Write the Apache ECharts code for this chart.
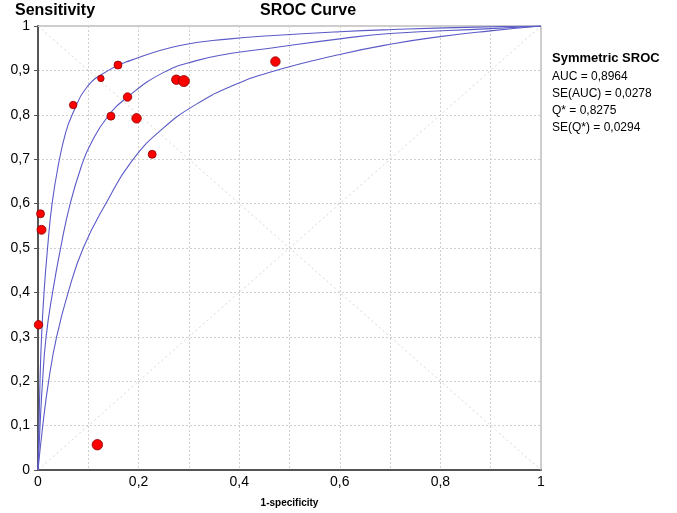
<!DOCTYPE html>
<html>
<head>
<meta charset="UTF-8">
<title>SROC Curve</title>
<script src="https://cdn.jsdelivr.net/npm/echarts@6/dist/echarts.min.js"></script>
</head>
<body style="margin:0;background:#fff">
<div id="sroc" style="width:677px;height:513px;"></div>
<script>
    // studies: [1-specificity, sensitivity]
    var studies = [
        [0.070, 0.822], [0.125, 0.882], [0.159, 0.912], [0.178, 0.840],
        [0.145, 0.797], [0.196, 0.792], [0.275, 0.879], [0.290, 0.876],
        [0.227, 0.711], [0.472, 0.920], [0.005, 0.577], [0.007, 0.541],
        [0.001, 0.327], [0.118, 0.057]
    ];
    // relative study weights (drive the dot size)
    var weights = [2.5, 1.5, 3, 3.5, 3, 4.5, 4.5, 6, 3, 4.5, 3, 4, 3.5, 5.5];

    var srocCurve = [
        [0, 0], [0.004, 0.098], [0.009, 0.199], [0.016, 0.299], [0.029, 0.4],
        [0.045, 0.5], [0.064, 0.6], [0.088, 0.69], [0.105, 0.735], [0.138, 0.795],
        [0.178, 0.84], [0.249, 0.895], [0.315, 0.922], [0.382, 0.938], [0.461, 0.950],
        [0.6, 0.971], [0.7, 0.983], [0.899, 0.994], [1, 1]
    ];
    var upperCurve = [
        [0, 0], [0.002, 0.098], [0.004, 0.199], [0.007, 0.299], [0.012, 0.4],
        [0.019, 0.5], [0.028, 0.6], [0.041, 0.69], [0.055, 0.76], [0.068, 0.8],
        [0.097, 0.862], [0.14, 0.9], [0.183, 0.922], [0.282, 0.956], [0.382, 0.971],
        [0.461, 0.978], [0.6, 0.987], [0.706, 0.992], [0.85, 0.997], [1, 1]
    ];
    var lowerCurve = [
        [0, 0], [0.0093, 0.098], [0.021, 0.199], [0.037, 0.3], [0.06, 0.4],
        [0.09, 0.5], [0.135, 0.6], [0.186, 0.695], [0.249, 0.77], [0.315, 0.824],
        [0.382, 0.863], [0.461, 0.896], [0.6, 0.936], [0.706, 0.960], [0.799, 0.976],
        [0.899, 0.989], [1, 1]
    ];
    var diagonals = [
        [[0, 0], [1, 1]],
        [[0, 1], [1, 0]]
    ];
    var statsTitle = 'Symmetric SROC';
    var statsLines = ['AUC = 0,8964', 'SE(AUC) = 0,0278', 'Q* = 0,8275', 'SE(Q*) = 0,0294'];

    var FONT = 'Liberation Sans, Arial, Helvetica, sans-serif';

    function comma(v) {
        var r = Math.round(v * 10) / 10;
        return String(r).replace('.', ',');
    }

    var chart = echarts.init(document.getElementById('sroc'));

    var series = [];
    diagonals.forEach(function (d) {
        series.push({
            type: 'line', data: d, symbol: 'none', silent: true,
            lineStyle: {color: '#d6d6d6', width: 1, type: [2, 3]}, z: 1
        });
    });
    [upperCurve, srocCurve, lowerCurve].forEach(function (c) {
        series.push({
            type: 'line', data: c, symbol: 'none', smooth: 0.5,
            lineStyle: {color: '#5a5ac8', width: 1.1}, z: 2
        });
    });
    series.push({
        type: 'scatter',
        data: studies.map(function (p, i) { return [p[0], p[1], weights[i]]; }),
        symbolSize: function (v) { return 5 + v[2] * 1.0; },
        itemStyle: {color: '#ff0000', borderColor: '#8a0000', borderWidth: 0.8, opacity: 1},
        z: 5
    });

    var graphics = [
        {type: 'text', left: 15, top: 3, style: {text: 'Sensitivity', font: 'bold 16px ' + FONT, fill: '#000'}},
        {type: 'text', left: 260, top: 3, style: {text: 'SROC Curve', font: 'bold 16px ' + FONT, fill: '#000'}},
        {type: 'text', left: 552, top: 52, style: {text: statsTitle, font: 'bold 13px ' + FONT, fill: '#000'}}
    ];
    statsLines.forEach(function (t, i) {
        graphics.push({type: 'text', left: 552, top: 71 + i * 16.9, style: {text: t, font: '12px ' + FONT, fill: '#000'}});
    });

    chart.setOption({
        animation: false,
        grid: {left: 38, right: 136, top: 26, bottom: 39, show: true, borderColor: '#9a9a9a', borderWidth: 1, containLabel: false},
        xAxis: {
            type: 'value', min: 0, max: 1, interval: 0.1,
            name: '1-specificity', nameLocation: 'middle', nameGap: 28,
            nameTextStyle: {fontFamily: FONT, fontWeight: 'bold', fontSize: 10, color: '#000'},
            axisLine: {lineStyle: {color: '#555', width: 2}},
            axisTick: {show: false},
            axisLabel: {
                fontFamily: FONT, fontSize: 14, color: '#000', margin: 5,
                formatter: function (v) { return Math.round(v * 10) % 2 ? '' : comma(v); }
            },
            splitLine: {lineStyle: {color: '#d0d0d0', type: [2, 2]}}
        },
        yAxis: {
            type: 'value', min: 0, max: 1, interval: 0.1,
            axisLine: {show: true, lineStyle: {color: '#555', width: 2}},
            axisTick: {show: true, length: 4, lineStyle: {color: '#555'}},
            axisLabel: {fontFamily: FONT, fontSize: 14, color: '#000', margin: 8, formatter: comma},
            splitLine: {lineStyle: {color: '#d0d0d0', type: [2, 2]}}
        },
        graphic: graphics,
        series: series
    });
</script>
</body>
</html>
